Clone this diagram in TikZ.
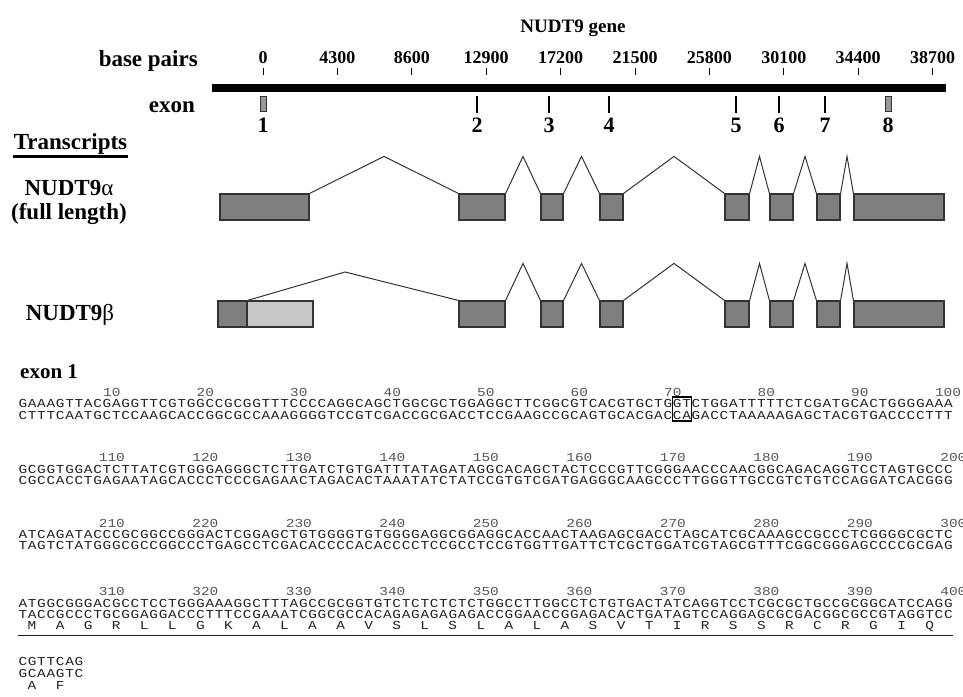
\documentclass[tikz,border=0pt]{standalone}
\usepackage{fontspec}
\setmainfont{Liberation Serif}
\newfontfamily\seqfont[FakeStretch=1.18]{Liberation Mono}
\usepackage{tikz}
\usetikzlibrary{calc, positioning}
\definecolor{exongray}{HTML}{7F7F7F}
\definecolor{utrgray}{HTML}{C8C8C8}
\definecolor{edgegray}{HTML}{333333}
\definecolor{seqgray}{HTML}{222222}
\definecolor{numgray}{HTML}{555555}

% one base per fixed-width cell
\newcommand{\seqrow}[1]{\seqstep#1\relax}
\newcommand{\seqstep}[1]{\ifx#1\relax\else\makebox[9.35pt]{#1}\expandafter\seqstep\fi}

\begin{document}
\begin{tikzpicture}[x=1pt, y=-1pt,
        heading/.style={font=\bfseries\fontsize{23}{23}\selectfont, inner sep=0},
        ticklabel/.style={font=\bfseries\fontsize{18}{18}\selectfont, anchor=base, inner sep=0},
        exonnum/.style={font=\bfseries\fontsize{22}{22}\selectfont, anchor=base, inner sep=0},
        exonbox/.style={draw=edgegray, fill=exongray, line width=1.2pt, minimum height=26pt, inner sep=0},
        utrbox/.style={exonbox, fill=utrgray},
        intron/.style={draw=edgegray, line width=1pt},
        seq/.style={font=\seqfont\fontsize{12.2}{12}\selectfont, text=seqgray, anchor=base west, inner sep=0, text height=7pt, text depth=0pt},
        seqnum/.style={font=\seqfont\fontsize{12.2}{12}\selectfont, text=numgray, anchor=base, inner sep=0, text height=7pt, text depth=0pt},
        aa/.style={seqnum, text=seqgray}
    ]
    \useasboundingbox (0,0) rectangle (963,696);

    % gene map
    \node (genetitle) [heading, font=\bfseries\fontsize{19}{19}\selectfont, anchor=base] at (573,32) {NUDT9 gene};
    \node (bplabel) [heading, anchor=base east] at (198,66) {base pairs};
    \fill (212,84) rectangle (946,92);
    \foreach \bp [count=\k from 0] in {0,4300,8600,12900,17200,21500,25800,30100,34400,38700}{
        \node (bp\k) [ticklabel] at ({263+74.4*\k},63) {\bp};
        \draw [line width=1pt] ({263+74.4*\k},68) -- ({263+74.4*\k},75);
    }
    \node (exonlabel) [heading, anchor=base east] at (195,112) {exon};
    \foreach \x/\n in {263/1, 888/8}
        \node (ex\n) [draw=edgegray, fill=exongray!80, line width=0.8pt, minimum width=6pt, minimum height=15pt, inner sep=0] at (\x,104) {};
    \foreach \x/\n in {477/2, 549/3, 609/4, 736/5, 779/6, 825/7}
        \node (ex\n) [fill=black, minimum width=2.5pt, minimum height=17pt, inner sep=0] at (\x,104) {};
    \foreach \x/\n in {263/1, 477/2, 549/3, 609/4, 736/5, 779/6, 825/7, 888/8}
        \node (exnum\n) [exonnum] at (\x,132) {\n};

    % transcripts
    \node (transcripts) [heading, anchor=base] at (70.5,149) {Transcripts};
    \draw [line width=3pt] (13,156.5) -- (128,156.5);
    \node (alphaname) [heading, anchor=base] at (69,195) {NUDT9{\mdseries α}};
    \node (alphanote) [heading, anchor=base] at (69,219) {(full length)};
    \node (betaname) [heading, anchor=base] at (70,320) {NUDT9{\mdseries β}};

    \foreach \l/\r [count=\i] in {220/309,459/505,541/563,600/623,725/749,770/793,817/840,854/944}
        \node (a\i) [exonbox, minimum width={\r-\l}] at ({(\l+\r)/2},207) {};
    \foreach \i [evaluate=\i as \j using int(\i+1)] in {1,...,7}
        \draw [intron] (a\i.north east) -- ($(a\i.north east)!0.5!(a\j.north west)+(0,-37)$) -- (a\j.north west);

    \node (b1) [exonbox, minimum width=29pt] at (232.5,314) {};
    \node (b1u) [utrbox, minimum width=66pt] at (280,314) {};
    \foreach \l/\r [count=\i from 2] in {459/505,541/563,600/623,725/749,770/793,817/840,854/944}
        \node (b\i) [exonbox, minimum width={\r-\l}] at ({(\l+\r)/2},314) {};
    \coordinate (bpeak) at (345,272);
    \draw [intron] (b1.north east) -- (bpeak) -- (b2.north west);
    \foreach \i [evaluate=\i as \j using int(\i+1)] in {2,...,7}
        \draw [intron] (b\i.north east) -- ($(b\i.north east)!0.5!(b\j.north west)+(0,-37)$) -- (b\j.north west);

    % exon 1 sequence
    \node (exon1title) [heading, font=\bfseries\fontsize{21}{21}\selectfont, anchor=base west] at (20,378) {exon 1};

    \node (top1) [seq] at (18,407) {\seqrow{GAAAGTTACGAGGTTCGTGGCCGCGGTTTCCCCAGGCAGCTGGCGCTGGAGGCTTCGGCGTCACGTGCTGGTCTGGATTTTTCTCGATGCACTGGGGAAA}};
    \node (bot1) [seq] at (18,419) {\seqrow{CTTTCAATGCTCCAAGCACCGGCGCCAAAGGGGTCCGTCGACCGCGACCTCCGAAGCCGCAGTGCACGACCAGACCTAAAAAGAGCTACGTGACCCCTTT}};
    \foreach \k in {1,...,10}{
        \pgfmathtruncatemacro{\n}{10*\k}
        \node (pos\n) [seqnum] at ({min(18+(10*\k-0.5)*9.35+5,948)},396) {\n};
    }
    \node (gtbox) [draw, line width=1.8pt, minimum width=19pt, minimum height=24pt, inner sep=0] at (682,409) {};

    \node (top2) [seq] at (18,473) {\seqrow{GCGGTGGACTCTTATCGTGGGAGGGCTCTTGATCTGTGATTTATAGATAGGCACAGCTACTCCCGTTCGGGAACCCAACGGCAGACAGGTCCTAGTGCCC}};
    \node (bot2) [seq] at (18,484) {\seqrow{CGCCACCTGAGAATAGCACCCTCCCGAGAACTAGACACTAAATATCTATCCGTGTCGATGAGGGCAAGCCCTTGGGTTGCCGTCTGTCCAGGATCACGGG}};
    \foreach \k in {1,...,10}{
        \pgfmathtruncatemacro{\n}{100+10*\k}
        \node (pos\n) [seqnum] at ({18+(10*\k-0.5)*9.35+5},461) {\n};
    }

    \node (top3) [seq] at (18,538) {\seqrow{ATCAGATACCCGCGGCCGGGACTCGGAGCTGTGGGGTGTGGGGAGGCGGAGGCACCAACTAAGAGCGACCTAGCATCGCAAAGCCGCCCTCGGGGCGCTC}};
    \node (bot3) [seq] at (18,549) {\seqrow{TAGTCTATGGGCGCCGGCCCTGAGCCTCGACACCCCACACCCCTCCGCCTCCGTGGTTGATTCTCGCTGGATCGTAGCGTTTCGGCGGGAGCCCCGCGAG}};
    \foreach \k in {1,...,10}{
        \pgfmathtruncatemacro{\n}{200+10*\k}
        \node (pos\n) [seqnum] at ({18+(10*\k-0.5)*9.35+5},527) {\n};
    }

    \node (top4) [seq] at (18,607) {\seqrow{ATGGCGGGACGCCTCCTGGGAAAGGCTTTAGCCGCGGTGTCTCTCTCTCTGGCCTTGGCCTCTGTGACTATCAGGTCCTCGCGCTGCCGCGGCATCCAGG}};
    \node (bot4) [seq] at (18,618) {\seqrow{TACCGCCCTGCGGAGGACCCTTTCCGAAATCGGCGCCACAGAGAGAGAGACCGGAACCGGAGACACTGATAGTCCAGGAGCGCGACGGCGCCGTAGGTCC}};
    \foreach \k in {1,...,10}{
        \pgfmathtruncatemacro{\n}{300+10*\k}
        \node (pos\n) [seqnum] at ({18+(10*\k-0.5)*9.35+5},595.5) {\n};
    }
    \foreach \res [count=\i] in {M,A,G,R,L,L,G,K,A,L,A,A,V,S,L,S,L,A,L,A,S,V,T,I,R,S,S,R,C,R,G,I,Q}
        \node (aa\i) [aa] at ({18+(3*\i-1.5)*9.35},629) {\res};
    \draw [line width=0.8pt, seqgray] (18,635.5) -- (953,635.5);

    \node (top5) [seq] at (18,665) {\seqrow{CGTTCAG}};
    \node (bot5) [seq] at (18,677) {\seqrow{GCAAGTC}};
    \node (aa34) [aa] at ({18+1.5*9.35},689) {A};
    \node (aa35) [aa] at ({18+4.5*9.35},689) {F};
\end{tikzpicture}
\end{document}
